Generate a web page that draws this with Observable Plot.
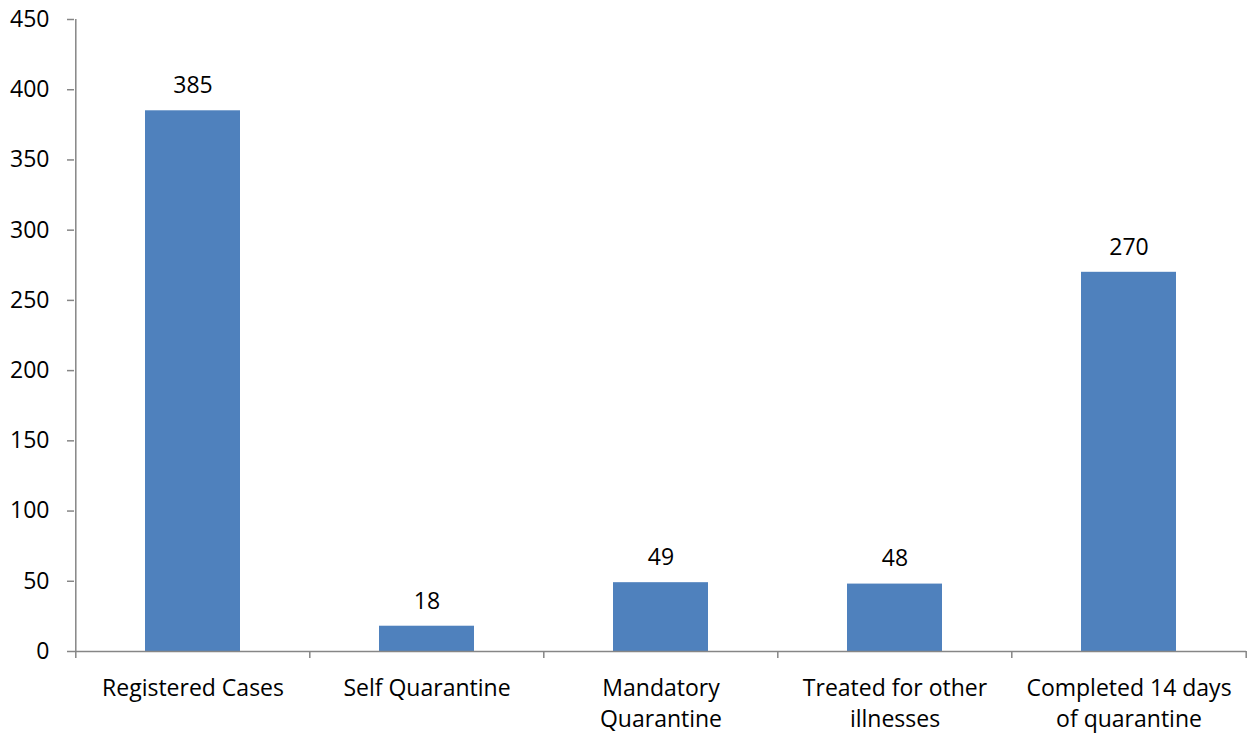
<!DOCTYPE html>
<html>
<head>
<meta charset="utf-8">
<script src="https://cdn.jsdelivr.net/npm/d3@7"></script>
<script src="https://cdn.jsdelivr.net/npm/@observablehq/plot@0.6"></script>
<style>
  html, body { margin: 0; padding: 0; background: #fff; }
  svg { display: block; }
</style>
</head>
<body>
<div id="chart"></div>
<script>
const categories = ["Registered Cases", "Self Quarantine", "Mandatory\nQuarantine", "Treated for other\nillnesses", "Completed 14 days\nof quarantine"];
const values = [385, 18, 49, 48, 270];
const yTicks = [0, 50, 100, 150, 200, 250, 300, 350, 400, 450];

const data = categories.map((c, i) => ({category: c, value: values[i]}));

const W = 1258, H = 747;
const mL = 74, mR = 12, mT = 19, mB = 96;
const step = (W - mL - mR) / categories.length;
const pad = 0.595;
const axisColor = "#868686";
const font = "'Open Sans', 'Noto Sans', sans-serif";
const fs = 23;

const chart = Plot.plot({
  width: W,
  height: H,
  marginLeft: mL,
  marginRight: mR,
  marginTop: mT,
  marginBottom: mB,
  style: {fontFamily: font, fontSize: fs + "px", color: "#000", background: "#fff"},
  x: {domain: categories, paddingInner: pad, paddingOuter: pad / 2, label: null},
  y: {domain: [0, 450], ticks: yTicks, label: null},
  marks: [
    Plot.barY(data, {x: "category", y: "value", fill: "#4F81BD"}),
    // y axis line
    Plot.ruleX([categories[0]], {x: d => d, dx: -step / 2, stroke: axisColor, strokeWidth: 1.5}),
    // x axis line
    Plot.ruleY([0], {stroke: axisColor, strokeWidth: 1.5}),
    // boundary ticks below x axis
    Plot.ruleX(categories, {x: d => d, y1: () => 0, y2: () => 0, insetBottom: -7, dx: -step / 2, stroke: axisColor, strokeWidth: 1.5}),
    Plot.ruleX([categories[categories.length - 1]], {x: d => d, y1: () => 0, y2: () => 0, insetBottom: -7, dx: step / 2, stroke: axisColor, strokeWidth: 1.5}),
    Plot.axisY({ticks: yTicks, tickSize: 7, tickPadding: 18, stroke: axisColor, strokeWidth: 1.5, tickFormat: d => d, fontSize: fs, fill: "#000"}),
    Plot.axisX({tickSize: 0, tickPadding: 23, fontSize: fs, lineHeight: 1.33, fill: "#000"}),
    Plot.text(data, {x: "category", y: "value", text: d => String(d.value), dy: -25, fontSize: fs, fill: "#000"})
  ]
});

document.getElementById("chart").appendChild(chart);
</script>
</body>
</html>
